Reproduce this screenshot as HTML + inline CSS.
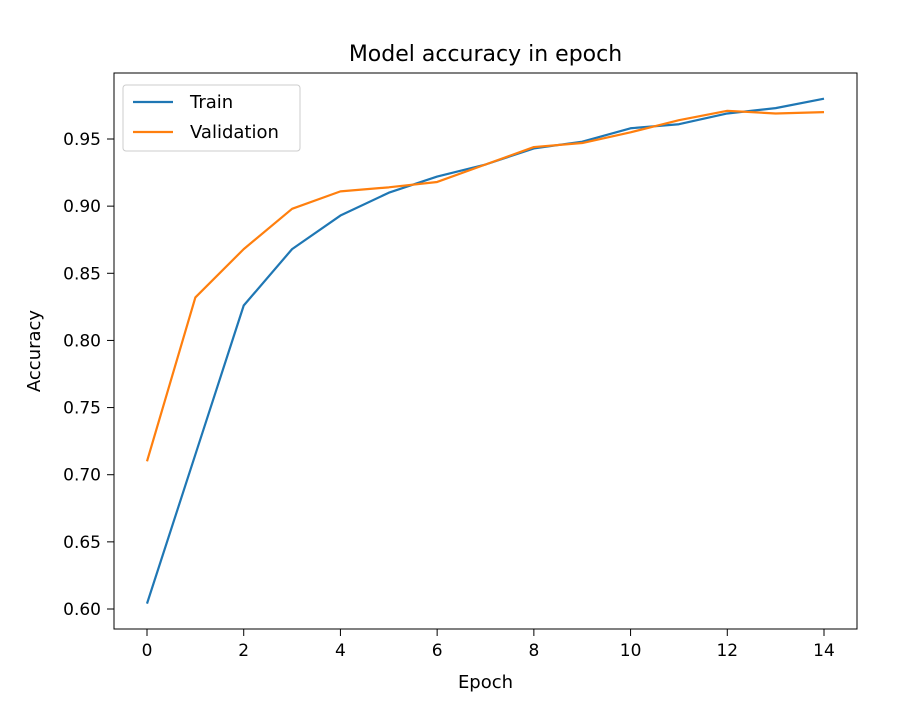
<!DOCTYPE html>
<html><head><meta charset="utf-8"><style>
body{margin:0;background:#fff;font-family:"Liberation Sans","DejaVu Sans",sans-serif;}
svg text{font-family:"DejaVu Sans","Liberation Sans",sans-serif;fill:#000;}
</style></head><body>
<svg id="c" width="912" height="697" xmlns="http://www.w3.org/2000/svg">
<rect width="912" height="697" fill="#fff"/>
<g id="grid"></g>
<g id="marks"></g>
<rect x="114" y="73" width="743" height="556" fill="none" stroke="#000" stroke-width="1"/>
<text x="485.5" y="61" font-size="22" text-anchor="middle">Model accuracy in epoch</text>
<text x="485.5" y="688" font-size="18" text-anchor="middle">Epoch</text>
<text x="40" y="351" font-size="18" text-anchor="middle" transform="rotate(-90 40 351)">Accuracy</text>
<g>
<rect x="123" y="85" width="177" height="66" rx="3" fill="#fff" fill-opacity="0.8" stroke="#ccc"/>
<line x1="133" y1="102" x2="173" y2="102" stroke="#1f77b4" stroke-width="2.2"/>
<text x="190" y="108" font-size="18">Train</text>
<line x1="133" y1="132" x2="173" y2="132" stroke="#ff7f0e" stroke-width="2.2"/>
<text x="190" y="138" font-size="18">Validation</text>
</g>
</svg>
<script>
const epochs=[0,1,2,3,4,5,6,7,8,9,10,11,12,13,14];
const trainAcc=[0.604,0.715,0.826,0.868,0.893,0.910,0.922,0.931,0.943,0.948,0.958,0.961,0.969,0.973,0.980];
const valAcc=[0.710,0.832,0.868,0.898,0.911,0.914,0.918,0.931,0.944,0.947,0.955,0.964,0.971,0.969,0.970];
const xTicks=[0,2,4,6,8,10,12,14];
const yTicks=[0.60,0.65,0.70,0.75,0.80,0.85,0.90,0.95];
const NS="http://www.w3.org/2000/svg";
const xs=v=>147+(v-0)*(824-147)/14;
const ys=v=>609-(v-0.60)*(609-139)/0.35;
const g=document.getElementById('grid'),m=document.getElementById('marks');
function mk(tag,attrs,parent){const e=document.createElementNS(NS,tag);for(const k in attrs)e.setAttribute(k,attrs[k]);parent.appendChild(e);return e;}
xTicks.forEach(t=>{
  const l=mk('line',{x1:xs(t),x2:xs(t),y1:629,y2:636,stroke:'#000'},g);
  
  
  const tx=mk('text',{x:xs(t),y:656,'font-size':17,'text-anchor':'middle'},g);tx.textContent=t;
  
  
});
yTicks.forEach(t=>{
  const l=mk('line',{x1:107,x2:114,y1:ys(t),y2:ys(t),stroke:'#000'},g);
  
  
  const tx=mk('text',{x:101,y:ys(t)+6,'font-size':17,'text-anchor':'end'},g);tx.textContent=t.toFixed(2);
  
  
});
function line(vals,color,name){
  const p=mk('polyline',{points:vals.map((v,i)=>xs(epochs[i])+','+ys(v)).join(' '),fill:'none',stroke:color,'stroke-width':2.2,'stroke-linejoin':'round'},m);
  
  
}
line(trainAcc,'#1f77b4','train-line');
line(valAcc,'#ff7f0e','validation-line');
</script>
</body></html>
